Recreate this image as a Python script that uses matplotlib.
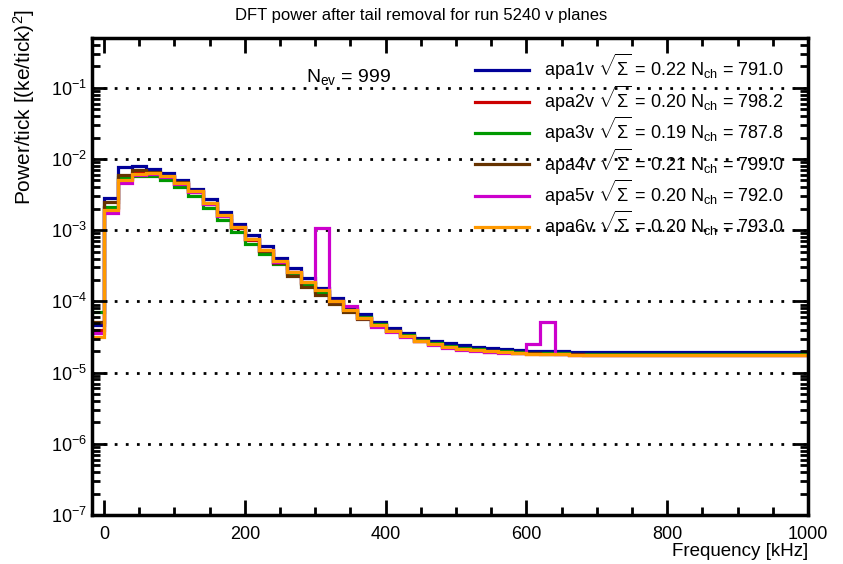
import numpy as np
import matplotlib.pyplot as plt
from matplotlib.ticker import FixedLocator, LogLocator, MultipleLocator, NullFormatter

plt.rcParams['font.family'] = ['Liberation Sans', 'DejaVu Sans']
plt.rcParams['mathtext.fontset'] = 'custom'
plt.rcParams['mathtext.rm'] = 'Liberation Sans'
plt.rcParams['mathtext.it'] = 'Liberation Sans:italic'
plt.rcParams['mathtext.bf'] = 'Liberation Sans:bold'

# 20 kHz bins from -20 to 1000 kHz
bin_lo = -20
bin_width = 20
n_bins = 51

apa1v = [4.6e-5, 2.87e-3, 7.6e-3, 7.9e-3, 7.2e-3, 6.35e-3, 5.1e-3, 3.8e-3, 2.7e-3, 1.8e-3,
         1.24e-3, 8.5e-4, 5.9e-4, 4.1e-4, 2.9e-4, 2.1e-4, 1.55e-4, 1.12e-4, 8.2e-5, 6.6e-5,
         5.1e-5, 4.25e-5, 3.6e-5, 3.1e-5, 2.8e-5, 2.6e-5, 2.45e-5, 2.3e-5, 2.2e-5, 2.12e-5,
         2.06e-5, 2.02e-5, 2.0e-5, 1.98e-5, 1.96e-5, 1.95e-5, 1.95e-5, 1.94e-5, 1.94e-5, 1.94e-5,
         1.94e-5, 1.93e-5, 1.93e-5, 1.93e-5, 1.93e-5, 1.93e-5, 1.93e-5, 1.93e-5, 1.93e-5, 1.93e-5,
         1.93e-5]
apa2v = [4.0e-5, 2.05e-3, 5.2e-3, 6.3e-3, 6.3e-3, 5.6e-3, 4.5e-3, 3.4e-3, 2.35e-3, 1.6e-3,
         1.08e-3, 7.3e-4, 5.1e-4, 3.55e-4, 2.55e-4, 1.82e-4, 1.4e-4, 1.0e-4, 7.6e-5, 5.9e-5,
         4.6e-5, 3.8e-5, 3.25e-5, 2.8e-5, 2.5e-5, 2.3e-5, 2.15e-5, 2.05e-5, 1.97e-5, 1.92e-5,
         1.88e-5, 1.85e-5, 1.83e-5, 1.8e-5, 1.79e-5, 1.78e-5, 1.77e-5, 1.77e-5, 1.76e-5, 1.76e-5,
         1.76e-5, 1.76e-5, 1.76e-5, 1.76e-5, 1.76e-5, 1.76e-5, 1.76e-5, 1.76e-5, 1.76e-5, 1.76e-5,
         1.76e-5]
apa3v = [7.2e-5, 2.15e-3, 5.5e-3, 5.8e-3, 5.7e-3, 5.0e-3, 4.0e-3, 3.0e-3, 2.05e-3, 1.38e-3,
         9.3e-4, 6.4e-4, 4.6e-4, 3.3e-4, 2.4e-4, 1.75e-4, 1.35e-4, 1.0e-4, 7.6e-5, 6.0e-5,
         4.8e-5, 3.9e-5, 3.35e-5, 2.9e-5, 2.6e-5, 2.4e-5, 2.25e-5, 2.12e-5, 2.04e-5, 1.98e-5,
         1.94e-5, 1.9e-5, 1.88e-5, 1.86e-5, 1.84e-5, 1.83e-5, 1.83e-5, 1.82e-5, 1.82e-5, 1.82e-5,
         1.82e-5, 1.81e-5, 1.81e-5, 1.81e-5, 1.81e-5, 1.81e-5, 1.81e-5, 1.81e-5, 1.81e-5, 1.81e-5,
         1.81e-5]
apa4v = [5.2e-5, 2.46e-3, 5.9e-3, 6.9e-3, 6.6e-3, 5.8e-3, 4.7e-3, 3.5e-3, 2.4e-3, 1.62e-3,
         1.1e-3, 7.4e-4, 5.1e-4, 3.5e-4, 2.25e-4, 1.6e-4, 1.24e-4, 9.1e-5, 7.2e-5, 5.7e-5,
         4.6e-5, 3.8e-5, 3.25e-5, 2.8e-5, 2.5e-5, 2.3e-5, 2.15e-5, 2.05e-5, 1.98e-5, 1.93e-5,
         1.9e-5, 1.87e-5, 1.84e-5, 1.82e-5, 1.8e-5, 1.79e-5, 1.79e-5, 1.78e-5, 1.78e-5, 1.78e-5,
         1.77e-5, 1.77e-5, 1.77e-5, 1.77e-5, 1.77e-5, 1.77e-5, 1.77e-5, 1.77e-5, 1.77e-5, 1.77e-5,
         1.77e-5]
apa5v = [3.6e-5, 1.77e-3, 4.6e-3, 6.0e-3, 6.2e-3, 5.6e-3, 4.5e-3, 3.4e-3, 2.35e-3, 1.6e-3,
         1.1e-3, 7.4e-4, 5.2e-4, 3.6e-4, 2.55e-4, 1.85e-4, 1.07e-3, 1.02e-4, 8.5e-5, 5.8e-5,
         4.3e-5, 3.7e-5, 3.2e-5, 2.75e-5, 2.45e-5, 2.25e-5, 2.1e-5, 2.0e-5, 1.95e-5, 1.9e-5,
         1.87e-5, 2.5e-5, 5.1e-5, 1.8e-5, 1.78e-5, 1.77e-5, 1.76e-5, 1.76e-5, 1.75e-5, 1.75e-5,
         1.75e-5, 1.75e-5, 1.75e-5, 1.74e-5, 1.74e-5, 1.74e-5, 1.74e-5, 1.74e-5, 1.74e-5, 1.74e-5,
         1.74e-5]
apa6v = [3.2e-5, 1.95e-3, 5.0e-3, 6.2e-3, 6.3e-3, 5.7e-3, 4.6e-3, 3.5e-3, 2.4e-3, 1.65e-3,
         1.12e-3, 7.6e-4, 5.3e-4, 3.65e-4, 2.6e-4, 1.86e-4, 1.44e-4, 1.0e-4, 7.5e-5, 5.9e-5,
         4.65e-5, 3.8e-5, 3.3e-5, 2.8e-5, 2.5e-5, 2.3e-5, 2.15e-5, 2.05e-5, 1.98e-5, 1.92e-5,
         1.88e-5, 1.85e-5, 1.82e-5, 1.8e-5, 1.78e-5, 1.77e-5, 1.76e-5, 1.76e-5, 1.75e-5, 1.75e-5,
         1.75e-5, 1.75e-5, 1.75e-5, 1.74e-5, 1.74e-5, 1.74e-5, 1.74e-5, 1.74e-5, 1.74e-5, 1.74e-5,
         1.74e-5]

names = ["apa1v", "apa2v", "apa3v", "apa4v", "apa5v", "apa6v"]
sigmas = ["0.22", "0.20", "0.19", "0.21", "0.20", "0.20"]
nchans = ["791.0", "798.2", "787.8", "799.0", "792.0", "793.0"]
colors = ["#000099", "#cc0000", "#009900", "#663300", "#cc00cc", "#ff9900"]
n_events = 999

series = [apa1v, apa2v, apa3v, apa4v, apa5v, apa6v]
edges = bin_lo + bin_width * np.arange(n_bins + 1)
decades = 10.0 ** np.arange(-7, 0)

fig = plt.figure(figsize=(8.43, 5.64), dpi=100)
ax = fig.add_axes([0.1091, 0.0869, 0.8494, 0.8457])

for vals, name, sig, nch, col in zip(series, names, sigmas, nchans, colors):
    lab = name + r" $\sqrt{\Sigma}$ = " + sig + r" N$_{\rm ch}$ = " + nch
    ax.stairs(vals, edges, baseline=None, color=col, linewidth=2.3, label=lab)

ax.set_yscale("log")
ax.set_xlim(-17, 1000)
ax.set_ylim(1e-7, 0.5)

# dotted grid on the decades
for d in decades:
    ax.axhline(d, color="black", linestyle=(0, (1, 3)), linewidth=2.0, zorder=0)

ax.xaxis.set_major_locator(MultipleLocator(200))
ax.xaxis.set_minor_locator(MultipleLocator(50))
ax.yaxis.set_major_locator(FixedLocator(decades))
ax.yaxis.set_minor_locator(LogLocator(base=10, subs=np.arange(2, 10), numticks=20))
ax.yaxis.set_minor_formatter(NullFormatter())
ax.tick_params(which="both", direction="in", top=True, right=True, width=2, labelsize=13)
ax.tick_params(which="major", length=11)
ax.tick_params(which="minor", length=6)
ax.tick_params(axis="x", pad=8)
for sp in ax.spines.values():
    sp.set_linewidth(2.5)

fig.text(0.5, 0.973, "DFT power after tail removal for run 5240 v planes", fontsize=12,
         ha="center", va="center")
ax.set_xlabel("Frequency [kHz]", fontsize=13.5, loc="right", labelpad=0)
ax.set_ylabel(r"Power/tick [(ke/tick)$^2$]", fontsize=15, ha="right")
ax.yaxis.set_label_coords(-0.077, 1.06)

ax.text(0.2985, 0.918, r"N$_{\rm ev}$ = %d" % n_events, transform=ax.transAxes,
        fontsize=14, ha="left", va="center")

ax.legend(loc="upper left", bbox_to_anchor=(0.525, 0.985), frameon=False, fontsize=13,
          handlelength=3.0, handletextpad=0.8, labelspacing=0.07, borderaxespad=0)

fig.savefig("out.png", dpi=100)
